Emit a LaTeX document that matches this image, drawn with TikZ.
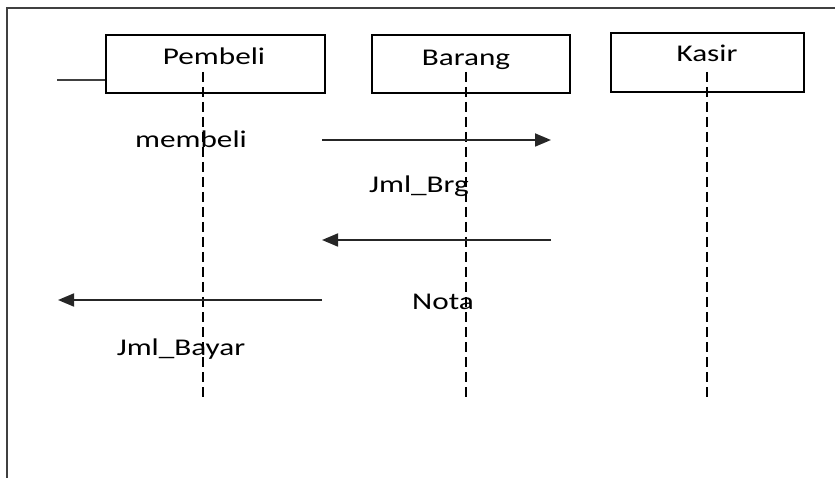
\documentclass[tikz,border=0pt]{standalone}
\usepackage{fontspec}
\setmainfont{Carlito}
\usetikzlibrary{arrows.meta}
\newcommand{\widetext}[1]{\scalebox{1.3}[1]{#1}}
\begin{document}
\begin{tikzpicture}[x=1pt,y=-1pt,
  frame/.style={draw=black!75,line width=1.8pt},
  objbox/.style={draw=black,line width=1.5pt,rectangle,inner sep=0pt},
  lbl/.style={inner sep=0pt,anchor=base,font=\fontsize{24}{28}\selectfont},
  lifeline/.style={draw=black,line width=1.4pt,dash pattern=on 10pt off 5pt},
  msg/.style={draw=black!85,line width=1.8pt,-{Triangle[length=16pt,width=13pt]}}]
\useasboundingbox (0,0) rectangle (835,478);
% outer frame, open on the right and at the bottom
\draw[frame] (835,8) -- (7,8) -- (7,478);
% objects
\node[objbox,minimum width=219pt,minimum height=58pt] (pembeli) at (215.5,64) {};
\node[objbox,minimum width=198pt,minimum height=58pt] (barang) at (471,64) {};
\node[objbox,minimum width=193pt,minimum height=59pt] (kasir) at (707.5,62.5) {};
\node[lbl] (tpembeli) at (214,65) {\widetext{Pembeli}};
\node[lbl] (tbarang) at (466,66) {\widetext{Barang}};
\node[lbl] (tkasir) at (707,62) {\widetext{Kasir}};
% lifelines
\coordinate (lp1) at (203,72); \coordinate (lp2) at (203,398);
\coordinate (lb1) at (466,72); \coordinate (lb2) at (466,398);
\coordinate (lk1) at (707,72); \coordinate (lk2) at (707,398);
\draw[lifeline] (lp1) -- (lp2);
\draw[lifeline] (lb1) -- (lb2);
\draw[lifeline] (lk1) -- (lk2);
% actor stub
\coordinate (stub) at (57,80);
\draw[frame,line width=1.5pt] (stub) -- (stub -| pembeli.west);
% messages
\coordinate (m1a) at (322,140); \coordinate (m1b) at (551,140);
\coordinate (m2a) at (551,240); \coordinate (m2b) at (322,240);
\coordinate (m3a) at (322,300); \coordinate (m3b) at (58,300);
\draw[msg] (m1a) -- (m1b);
\draw[msg] (m2a) -- (m2b);
\draw[msg] (m3a) -- (m3b);
% message labels
\node[lbl] (tmembeli) at (191,148) {\widetext{membeli}};
\node[lbl] (tjmlbrg) at (419,193) {\widetext{Jml\_Brg}};
\node[lbl] (tnota) at (443,309) {\widetext{Nota}};
\node[lbl] (tjmlbayar) at (181,355) {\widetext{Jml\_Bayar}};
\end{tikzpicture}
\end{document}
